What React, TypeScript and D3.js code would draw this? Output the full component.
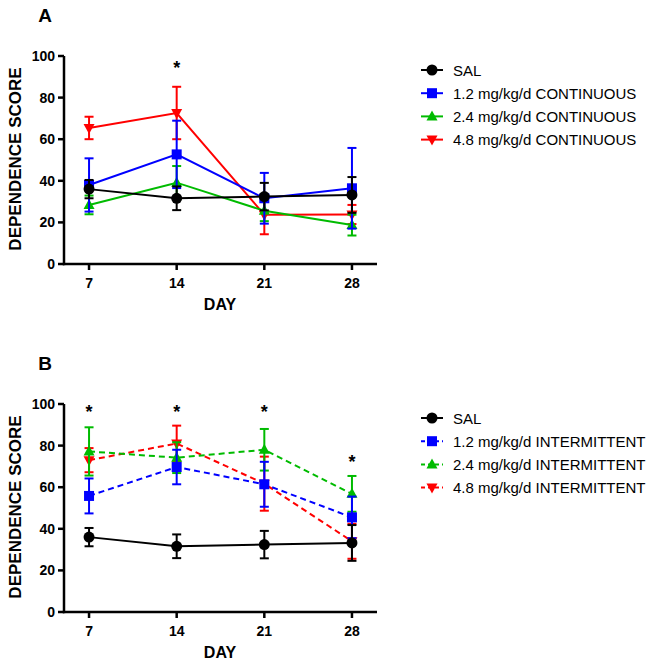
import React from "react";
import * as d3 from "d3";

const days = [7, 14, 21, 28];
const yTicks = [0, 20, 40, 60, 80, 100];

// Panel A (continuous)
const salMean = [36, 31.6, 32.4, 33.2];
const salErr = [4.4, 5.7, 6.6, 8.6];
const cont12Mean = [38, 52.7, 31.6, 36.4];
const cont12Err = [12.8, 16.2, 12.2, 19.4];
const cont24Mean = [28.4, 39.1, 25.6, 18.7];
const cont24Err = [4.5, 8, 5, 5];
const cont48Mean = [65.4, 72.6, 23.7, 23.8];
const cont48Err = [5.4, 12.6, 9.4, 4.6];

// Panel B (intermittent)
const int12Mean = [55.8, 69.7, 61.4, 45.5];
const int12Err = [8.4, 8.3, 10.8, 10];
const int24Mean = [77.2, 74.2, 78, 56.8];
const int24Err = [11.6, 7.4, 10, 8.6];
const int48Mean = [73, 81, 61.7, 34];
const int48Err = [5.8, 8.6, 13, 8.4];

const legendA = ["SAL", "1.2 mg/kg/d CONTINUOUS", "2.4 mg/kg/d CONTINUOUS", "4.8 mg/kg/d CONTINUOUS"];
const legendB = ["SAL", "1.2 mg/kg/d INTERMITTENT", "2.4 mg/kg/d INTERMITTENT", "4.8 mg/kg/d INTERMITTENT"];
const starsA = [14];
const starsAY = [100];
const starsB = [7, 14, 21, 28];
const starsBY = [102, 102, 102, 78];

type Series = { mean: number[]; err: number[]; color: string; shape: string; dashed: boolean };

const FONT = "'Liberation Sans', Arial, sans-serif";

function Marker({ shape, x, y, color }: { shape: string; x: number; y: number; color: string }) {
  if (shape === "circle") return <circle cx={x} cy={y} r={5.5} fill={color} />;
  if (shape === "square") return <rect x={x - 5} y={y - 5} width={10} height={10} fill={color} />;
  if (shape === "up") return <path d={`M${x},${y - 6} L${x + 5.5},${y + 4} L${x - 5.5},${y + 4} Z`} fill={color} />;
  return <path d={`M${x},${y + 6} L${x + 5.5},${y - 4} L${x - 5.5},${y - 4} Z`} fill={color} />;
}

function Panel({ top, letter, series, legend, stars, starY, legendTop }: {
  top: number; letter: string; series: Series[]; legend: string[]; stars: number[]; starY: number[]; legendTop: number;
}) {
  const x = d3.scaleLinear().domain([5, 30]).range([64, 377]);
  const y = d3.scaleLinear().domain([0, 100]).range([top + 208, top]);
  const line = d3.line<number>().x((_, i) => x(days[i])).y((d) => y(d));
  const drawOrder = [...series].reverse();
  return (
    <g>
      <text x={45} y={top - 41} fontFamily={FONT} fontWeight="bold" fontSize={19} textAnchor="middle" dominantBaseline="central">{letter}</text>
      {drawOrder.map((s, si) => (
        <g key={si}>
          {s.mean.map((m, i) => (
            <g key={i} stroke={s.color} strokeWidth={2}>
              <line x1={x(days[i])} x2={x(days[i])} y1={y(m + s.err[i])} y2={y(m - s.err[i])} />
              <line x1={x(days[i]) - 4.5} x2={x(days[i]) + 4.5} y1={y(m + s.err[i])} y2={y(m + s.err[i])} />
              <line x1={x(days[i]) - 4.5} x2={x(days[i]) + 4.5} y1={y(m - s.err[i])} y2={y(m - s.err[i])} />
            </g>
          ))}
          <path d={line(s.mean) || ""} fill="none" stroke={s.color} strokeWidth={2} strokeDasharray={s.dashed ? "6,4" : undefined} />
          {s.mean.map((m, i) => (
            <Marker key={i} shape={s.shape} x={x(days[i])} y={y(m)} color={s.color} />
          ))}
        </g>
      ))}
      <line x1={64} x2={64} y1={y(100)} y2={y(0) + 1.2} stroke="#000" strokeWidth={2.5} />
      <line x1={62.8} x2={377} y1={y(0)} y2={y(0)} stroke="#000" strokeWidth={2.5} />
      {yTicks.map((t) => (
        <g key={t}>
          <line x1={58} x2={64} y1={y(t)} y2={y(t)} stroke="#000" strokeWidth={2.5} />
          <text x={55} y={y(t)} textAnchor="end" dominantBaseline="central" fontFamily={FONT} fontWeight="bold" fontSize={14}>{t}</text>
        </g>
      ))}
      {days.map((d) => (
        <g key={d}>
          <line x1={x(d)} x2={x(d)} y1={y(0)} y2={y(0) + 6} stroke="#000" strokeWidth={2.5} />
          <text x={x(d)} y={y(0) + 19} textAnchor="middle" dominantBaseline="central" fontFamily={FONT} fontWeight="bold" fontSize={14}>{d}</text>
        </g>
      ))}
      <text x={220} y={y(0) + 40} textAnchor="middle" dominantBaseline="central" fontFamily={FONT} fontWeight="bold" fontSize={16}>DAY</text>
      <text transform={`translate(15,${top + 103}) rotate(-90)`} textAnchor="middle" dominantBaseline="central" fontFamily={FONT} fontWeight="bold" fontSize={17}>DEPENDENCE SCORE</text>
      {stars.map((d, i) => (
        <text key={d} x={x(d)} y={y(starY[i]) + 12} textAnchor="middle" dominantBaseline="central" fontFamily={FONT} fontWeight="bold" fontSize={18}>*</text>
      ))}
      {series.map((s, i) => {
        const ly = legendTop + i * 23.2;
        return (
          <g key={i}>
            <line x1={421} x2={443} y1={ly} y2={ly} stroke={s.color} strokeWidth={2} strokeDasharray={s.dashed ? "4,3" : undefined} />
            <Marker shape={s.shape} x={432} y={ly} color={s.color} />
            <text x={453} y={ly} dominantBaseline="central" fontFamily={FONT} fontSize={15}>{legend[i]}</text>
          </g>
        );
      })}
    </g>
  );
}

export default function App() {
  const sal: Series = { mean: salMean, err: salErr, color: "#000000", shape: "circle", dashed: false };
  const seriesA: Series[] = [
    sal,
    { mean: cont12Mean, err: cont12Err, color: "#0000ff", shape: "square", dashed: false },
    { mean: cont24Mean, err: cont24Err, color: "#00bb00", shape: "up", dashed: false },
    { mean: cont48Mean, err: cont48Err, color: "#ff0000", shape: "down", dashed: false },
  ];
  const seriesB: Series[] = [
    sal,
    { mean: int12Mean, err: int12Err, color: "#0000ff", shape: "square", dashed: true },
    { mean: int24Mean, err: int24Err, color: "#00bb00", shape: "up", dashed: true },
    { mean: int48Mean, err: int48Err, color: "#ff0000", shape: "down", dashed: true },
  ];
  return (
    <svg width={654} height={665} style={{ position: "absolute", left: 0, top: 0, background: "#fff" }}>
      <rect width={654} height={665} fill="#fff" />
      <Panel top={56} letter="A" series={seriesA} legend={legendA} stars={starsA} starY={starsAY} legendTop={70} />
      <Panel top={404} letter="B" series={seriesB} legend={legendB} stars={starsB} starY={starsBY} legendTop={418} />
    </svg>
  );
}
